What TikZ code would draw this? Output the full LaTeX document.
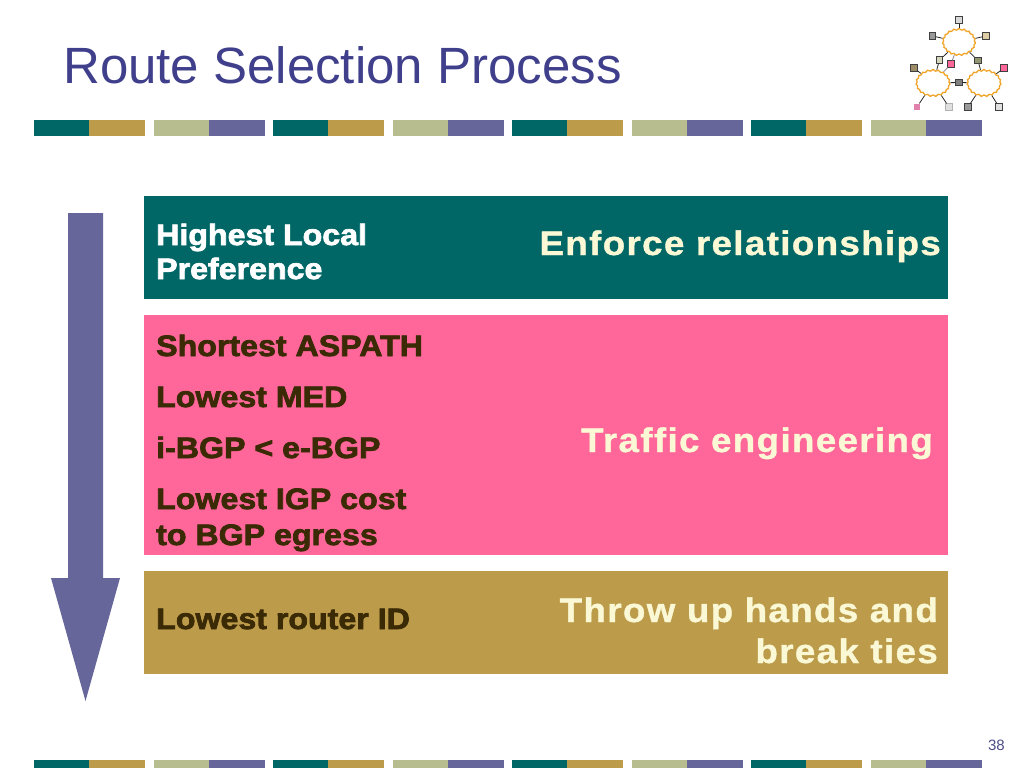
\documentclass[tikz,border=0pt]{standalone}
\usepackage{fontspec}
\setmainfont{Liberation Sans}
\newfontfamily\heavy[FakeBold=2.4,FakeStretch=1.09]{Liberation Sans Bold}
\newfontfamily\wide[FakeBold=1.1,FakeStretch=1.08,LetterSpace=4]{Liberation Sans Bold}
\usetikzlibrary{shapes.symbols}
\definecolor{teal1}{HTML}{006666}
\definecolor{gold1}{HTML}{BC9C4A}
\definecolor{sage1}{HTML}{B7BD8E}
\definecolor{purp1}{HTML}{66669A}
\definecolor{pink1}{HTML}{FF6699}
\definecolor{pink2}{HTML}{E082AC}
\definecolor{dark1}{HTML}{3A2A05}
\definecolor{cream1}{HTML}{FBF8D5}
\definecolor{title1}{HTML}{3F3F8C}
\definecolor{cloudor}{HTML}{F0A428}
\tikzset{
  x=1pt,y=-1pt,
  barseg/.style={fill=#1,draw=none},
  panel/.style={fill=#1,draw=none},
  lefttext/.style={anchor=base west,inner sep=0pt,font=\heavy\fontsize{29.5}{29.5}\selectfont,text=#1},
  righttext/.style={anchor=base east,inner sep=0pt,font=\wide\fontsize{34}{34}\selectfont,text=cream1},
  netcloud/.style={cloud,cloud puffs=19,cloud puff arc=130,aspect=1.15,draw=cloudor,line width=1.3pt,fill=white,inner sep=0pt,minimum width=#1,minimum height=27pt},
  router/.style={draw=black!75,line width=.7pt,fill=#1,minimum size=6.5pt,inner sep=0pt,rectangle},
  netline/.style={draw=black!85,line width=.8pt},
  netlineg/.style={draw=black!45,line width=.8pt},
}
\begin{document}
\begin{tikzpicture}
\useasboundingbox (0,0) rectangle (1024,768);
\fill[white] (0,0) rectangle (1024,768);
% header and footer bars
\foreach \yy/\hh in {120/16,760/8}{
  \foreach \xx in {34,273,512,751}{
    \fill[barseg=teal1] (\xx,\yy) rectangle ++(55.25,\hh);
    \fill[barseg=gold1] (\xx+55.25,\yy) rectangle ++(55.25,\hh);
  }
  \foreach \xx in {154,393,632,871}{
    \fill[barseg=sage1] (\xx,\yy) rectangle ++(55.25,\hh);
    \fill[barseg=purp1] (\xx+55.25,\yy) rectangle ++(55.25,\hh);
  }
}
\node[anchor=base west,inner sep=0pt,text=title1,font=\fontsize{51}{51}\selectfont] (title) at (63,83) {Route Selection Process};
% panels
\fill[panel=teal1] (144,196) rectangle (948,299);
\fill[panel=pink1] (144,315) rectangle (948,555);
\fill[panel=gold1] (144,571) rectangle (948,674);
% arrow
\fill[purp1] (68,213) -- (103,213) -- (103,578) -- (120,578) -- (85.5,701) -- (51,578) -- (68,578) -- cycle;
% left texts
\node[lefttext=white] (hl) at (156,245) {Highest Local};
\node[lefttext=white] (pr) at (156,279) {Preference};
\node[lefttext=dark1] (sa) at (156,356) {Shortest ASPATH};
\node[lefttext=dark1] (lm) at (156,407) {Lowest MED};
\node[lefttext=dark1] (ib) at (156,458) {i-BGP < e-BGP};
\node[lefttext=dark1] (li) at (156,509) {Lowest IGP cost};
\node[lefttext=dark1] (tb) at (156,545) {to BGP egress};
\node[lefttext=dark1] (lr) at (156,629) {Lowest router ID};
% right texts
\node[righttext] (er) at (941,255) {Enforce relationships};
\node[righttext] (te) at (933,452) {Traffic engineering};
\node[righttext] (th) at (938,622) {Throw up hands and};
\node[righttext] (bt) at (938,663) {break ties};
% logo
\node[netcloud=33pt] (c1) at (959,42) {};
\node[netcloud=34pt] (c2) at (933,83) {};
\node[netcloud=34pt] (c3) at (984,83) {};
\node[router=black!15] (r1) at (959,20) {};
\node[router=black!40] (r2) at (932.5,36) {};
\node[router=gold1!50] (r3) at (986,36) {};
\node[router=sage1!60] (r4) at (939.5,60) {};
\node[router=pink1] (r5) at (951,64) {};
\node[router=gold1!45!gray] (r6) at (914,68) {};
\node[router=pink1] (r7) at (1004,68) {};
\node[router=black!50] (r8) at (959,82.5) {};
\node[router=sage1!80!black] (r9) at (978,60.5) {};
\node[router=pink2,draw=none] (r10) at (917,107) {};
\node[router=black!12,draw=black!30] (r11) at (949,107) {};
\node[router=black!40] (r12) at (968,107) {};
\node[router=black!12] (r13) at (999,107) {};
\draw[netline] (r1) -- (c1);
\draw[netline] (r2) -- (c1);
\draw[netline] (r3) -- (c1);
\draw[netline] (r4) -- (c1);
\draw[netline] (r4) -- (c2);
\draw[netlineg] (r5) -- (c1);
\draw[netlineg] (r5) -- (c2);
\draw[netline] (r6) -- (c2);
\draw[netline] (r7) -- (c3);
\draw[netline] (r8) -- (c2);
\draw[netline] (r8) -- (c3);
\draw[netline] (r9) -- (c1);
\draw[netline] (r9) -- (c3);
\draw[netline] (r10) -- (c2);
\draw[netline] (r11) -- (c2);
\draw[netline] (r12) -- (c3);
\draw[netline] (r13) -- (c3);
\node[anchor=base east,inner sep=0pt,text=title1!80!gray,font=\fontsize{15}{15}\selectfont] (pg) at (1005,750) {38};
\end{tikzpicture}
\end{document}
